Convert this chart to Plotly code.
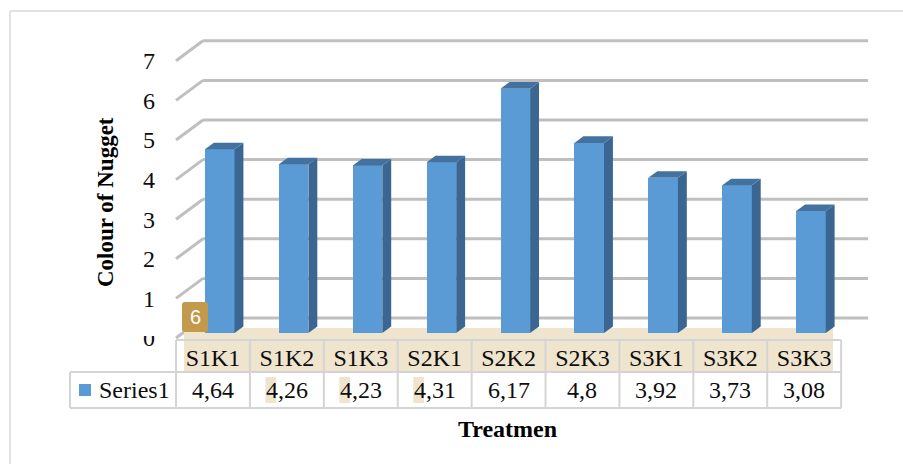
import plotly.graph_objects as go

# ---- data -------------------------------------------------------------
categories = ["S1K1", "S1K2", "S1K3", "S2K1", "S2K2", "S2K3", "S3K1", "S3K2", "S3K3"]
values = [4.64, 4.26, 4.23, 4.31, 6.17, 4.8, 3.92, 3.73, 3.08]
y_ticks = [0, 1, 2, 3, 4, 5, 6, 7]
series_name = "Series1"
x_title = "Treatmen"
y_title = "Colour of Nugget"

# ---- geometry ---------------------------------------------------------
W, H = 903, 464
X_RANGE = [-2.882, 9.337]
Y_RANGE = [-3.182, 8.535]
# oblique projection: depth d runs 0 (front edge) .. 1 (back wall)
DX = 0.365   # horizontal shift per unit depth (category units)
DY = 0.505   # vertical shift per unit depth (value units)
BAR_D0 = 0.25     # depth of the bar front faces
BAR_T = 0.33      # bar thickness in depth
BAR_W = 0.40      # bar width in category units

FRONT = "#5B9BD5"
SIDE = "#3A6691"
TOP = "#4472A0"
GRID = "#BFBFBF"
BORDER = "#D4D4D4"
TAN = "#EFE4CE"
SERIF = "Liberation Serif, Times New Roman, serif"
FS = 24
INK = "#0d0d0d"

idx = list(range(len(categories)))
left_edge, right_edge = -0.5, len(categories) - 0.5


def proj(i, v, d):
    return i + DX * d, v + DY * d


def xpx(p):
    return X_RANGE[0] + p / W * (X_RANGE[1] - X_RANGE[0])


def ypx(p):
    return Y_RANGE[1] - p / H * (Y_RANGE[1] - Y_RANGE[0])


fig = go.Figure()

# bar front faces
fig.add_trace(go.Bar(
    x=[i + DX * BAR_D0 for i in idx], y=values, base=DY * BAR_D0,
    width=BAR_W, marker=dict(color=FRONT, line=dict(width=0)),
    name=series_name, showlegend=False, hoverinfo="skip",
))

# bar side and top faces
side_x, side_y, top_x, top_y = [], [], [], []
for i, v in zip(idx, values):
    xl = i + DX * BAR_D0 - BAR_W / 2
    xr = i + DX * BAR_D0 + BAR_W / 2
    b = DY * BAR_D0
    ox, oy = DX * BAR_T, DY * BAR_T
    side_x += [xr, xr + ox, xr + ox, xr, xr, None]
    side_y += [b, b + oy, v + b + oy, v + b, b, None]
    top_x += [xl, xr, xr + ox, xl + ox, xl, None]
    top_y += [v + b, v + b, v + b + oy, v + b + oy, v + b, None]
fig.add_trace(go.Scatter(x=side_x, y=side_y, fill="toself", fillcolor=SIDE,
                         mode="lines", line=dict(width=0), showlegend=False,
                         hoverinfo="skip"))
fig.add_trace(go.Scatter(x=top_x, y=top_y, fill="toself", fillcolor=TOP,
                         mode="lines", line=dict(width=0), showlegend=False,
                         hoverinfo="skip"))

shapes = []
# back-wall gridlines and side-wall diagonals
for v in y_ticks:
    x0, y0 = proj(left_edge, v, 1)
    x1, y1 = proj(right_edge, v, 1)
    shapes.append(dict(type="line", xref="x", yref="y", x0=x0, y0=y0, x1=x1, y1=y1,
                       line=dict(color=GRID, width=3), layer="below"))
    fx, fy = proj(left_edge, v, 0)
    shapes.append(dict(type="line", xref="x", yref="y", x0=fx, y0=fy, x1=x0, y1=y0,
                       line=dict(color=GRID, width=3), layer="below"))

# data table
row_top, row_mid, row_bot = ypx(340), ypx(372), ypx(408)
cell_left = xpx(70)
shapes.append(dict(type="rect", xref="x", yref="y", x0=xpx(184), x1=xpx(833),
                   y0=ypx(328), y1=row_mid, fillcolor=TAN, line=dict(width=0),
                   layer="below"))
for i, v in zip(idx, values):
    if str(v).startswith("4") and i in (1, 2, 3):
        shapes.append(dict(type="rect", xref="x", yref="y", x0=i - 0.29, x1=i - 0.145,
                           y0=ypx(377), y1=ypx(403), fillcolor=TAN,
                           line=dict(width=0), layer="below"))
line_style = dict(color=BORDER, width=2)
shapes.append(dict(type="line", xref="x", yref="y", x0=proj(left_edge, 0, 0)[0],
                   x1=right_edge, y0=row_top, y1=row_top, line=line_style))
for yy in (row_mid, row_bot):
    shapes.append(dict(type="line", xref="x", yref="y", x0=cell_left, x1=right_edge,
                       y0=yy, y1=yy, line=line_style))
for k in range(len(categories) + 1):
    xb = left_edge + k
    shapes.append(dict(type="line", xref="x", yref="y", x0=xb, x1=xb,
                       y0=row_top, y1=row_bot, line=line_style))
shapes.append(dict(type="line", xref="x", yref="y", x0=cell_left, x1=cell_left,
                   y0=row_mid, y1=row_bot, line=line_style))
# legend key
shapes.append(dict(type="rect", xref="x", yref="y", x0=xpx(79), x1=xpx(91),
                   y0=ypx(384), y1=ypx(396), fillcolor=FRONT, line=dict(width=0)))

# chart frame
shapes.append(dict(type="line", xref="paper", yref="paper", x0=10 / W, x1=1,
                   y0=1 - 11 / H, y1=1 - 11 / H, line=dict(color="#D9D9D9", width=1.5)))
shapes.append(dict(type="line", xref="paper", yref="paper", x0=10 / W, x1=10 / W,
                   y0=0, y1=1 - 11 / H, line=dict(color="#D9D9D9", width=1.5)))

# top of the "0" tick label sits under the floor edge
shapes.append(dict(type="rect", xref="paper", yref="paper", x0=134 / W, x1=162 / W,
                   y0=1 - 336 / H, y1=1 - 324 / H, fillcolor="white",
                   line=dict(width=0), layer="above"))

# small paste tag near the floor
tx0, tx1, ty0, ty1, r = 182, 208, 302, 332, 3
path = (f"M {tx0 + r},{ty0} L {tx1 - r},{ty0} Q {tx1},{ty0} {tx1},{ty0 + r} "
        f"L {tx1},{ty1 - r} Q {tx1},{ty1} {tx1 - r},{ty1} L {tx0 + r},{ty1} "
        f"Q {tx0},{ty1} {tx0},{ty1 - r} L {tx0},{ty0 + r} Q {tx0},{ty0} {tx0 + r},{ty0} Z")
shapes.append(dict(type="path", xref="x", yref="y", path=" ".join(
    f"{xpx(float(p.split(',')[0])):.4f},{ypx(float(p.split(',')[1])):.4f}" if "," in p else p
    for p in path.split()), fillcolor="#C39A4C", line=dict(width=0), layer="above"))

annotations = []
for i, v in zip(idx, values):
    annotations.append(dict(x=i, y=(row_mid + row_bot) / 2, xref="x", yref="y",
                            text=f"{v:g}".replace(".", ","), showarrow=False,
                            font=dict(family=SERIF, size=FS, color=INK),
                            xanchor="center", yanchor="middle"))
annotations.append(dict(x=xpx(97), y=(row_mid + row_bot) / 2, xref="x", yref="y",
                        text=series_name, showarrow=False,
                        font=dict(family=SERIF, size=FS, color=INK),
                        xanchor="left", yanchor="middle"))
annotations.append(dict(x=507 / W, y=1 - 429 / H, xref="paper", yref="paper",
                        text=f"<b>{x_title}</b>", showarrow=False,
                        font=dict(family=SERIF, size=FS, color="#000000"),
                        xanchor="center", yanchor="middle"))
annotations.append(dict(x=106 / W, y=1 - 202 / H, xref="paper", yref="paper",
                        text=f"<b>{y_title}</b>", showarrow=False, textangle=-90,
                        font=dict(family=SERIF, size=23, color="#000000"),
                        xanchor="center", yanchor="middle"))
annotations.append(dict(x=195 / W, y=1 - 317 / H, xref="paper", yref="paper",
                        text="6", showarrow=False,
                        font=dict(family="Liberation Sans", size=20, color="white"),
                        xanchor="center", yanchor="middle"))

fig.update_layout(
    width=W, height=H, margin=dict(l=0, r=0, t=0, b=0),
    paper_bgcolor="white", plot_bgcolor="white",
    shapes=shapes, annotations=annotations, bargap=0, showlegend=False,
    xaxis=dict(range=X_RANGE, domain=[0, 1], tickvals=idx, ticktext=categories,
               anchor="free", position=1 - 341 / H, showgrid=False, zeroline=False,
               showline=False, ticks="", fixedrange=True,
               tickfont=dict(family=SERIF, size=FS, color=INK)),
    yaxis=dict(range=Y_RANGE, domain=[0, 1], tickvals=y_ticks,
               anchor="free", position=155 / W, showgrid=False, zeroline=False,
               showline=False, ticks="", fixedrange=True,
               tickfont=dict(family=SERIF, size=FS, color=INK)),
)

fig.write_html("out.html")
